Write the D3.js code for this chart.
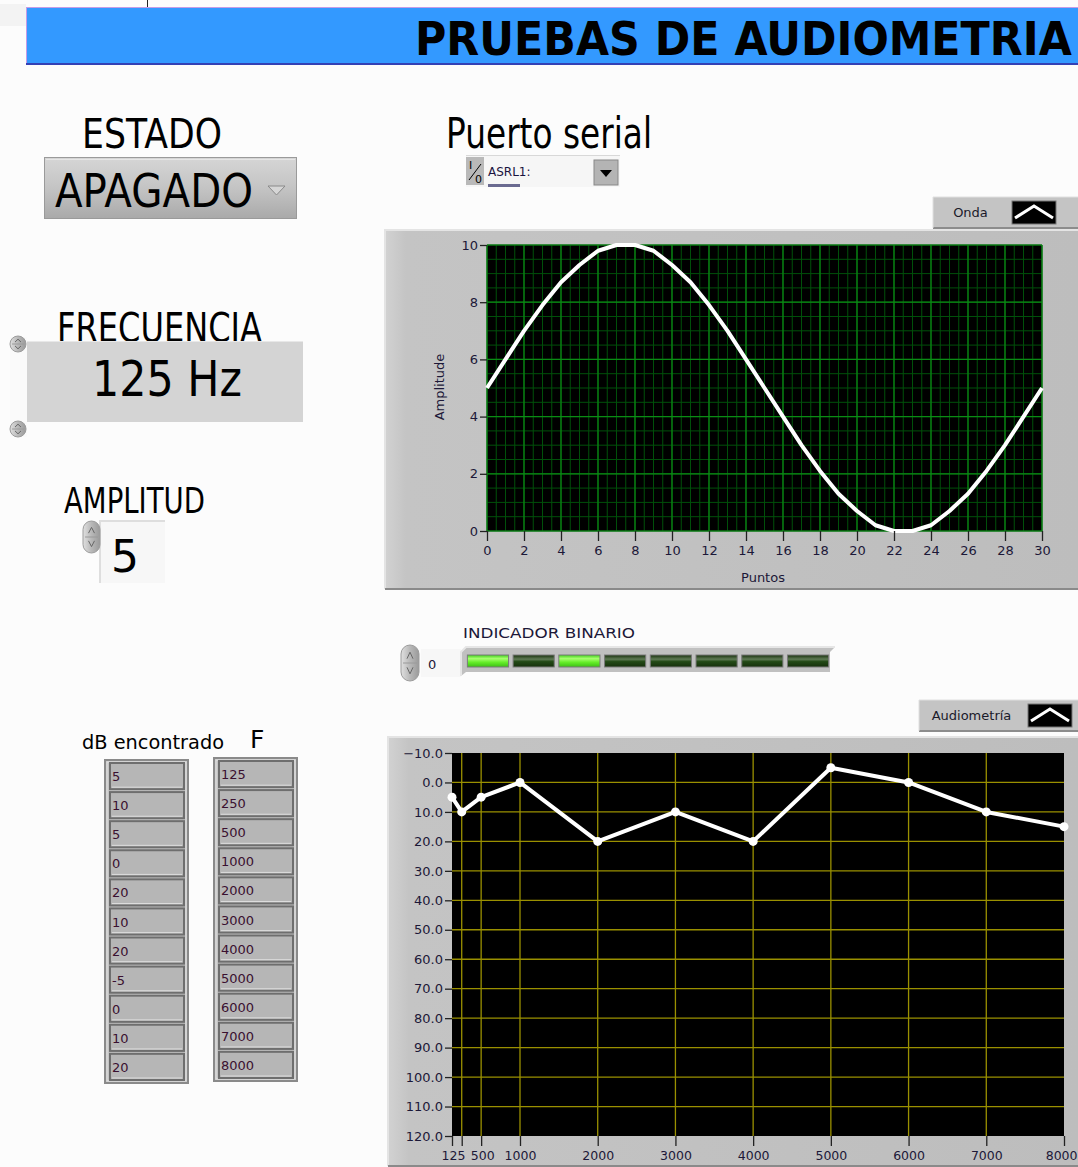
<!DOCTYPE html>
<html>
<head>
<meta charset="utf-8">
<script src="https://cdn.jsdelivr.net/npm/d3@7"></script>
<style>
  html, body { margin: 0; padding: 0; background: #fcfcfc; }
  svg text { font-family: "DejaVu Sans", "Liberation Sans", sans-serif; }
</style>
</head>
<body>
<svg id="panel" width="1078" height="1167"></svg>
<script>
// --- data ---
var ondaX = d3.range(0, 31);
var ondaY = [5.0, 6.0, 7.0, 7.9, 8.7, 9.3, 9.8, 10.0, 10.0, 9.8, 9.3, 8.7, 7.9, 7.0, 6.0, 5.0,
             4.0, 3.0, 2.1, 1.3, 0.7, 0.2, 0.0, 0.0, 0.2, 0.7, 1.3, 2.1, 3.0, 4.0, 5.0];
var audioF = [125, 250, 500, 1000, 2000, 3000, 4000, 5000, 6000, 7000, 8000];
var audioDb = [5, 10, 5, 0, 20, 10, 20, -5, 0, 10, 15];
var tablaDb = ["5", "10", "5", "0", "20", "10", "20", "-5", "0", "10", "20"];
var tablaF = ["125", "250", "500", "1000", "2000", "3000", "4000", "5000", "6000", "7000", "8000"];
var leds = [1, 0, 1, 0, 0, 0, 0, 0];
var audioYTicks = d3.range(-10, 121, 10);

var svg = d3.select("#panel");
var defs = svg.append("defs");

function grad(id, stops, vertical) {
  var g = defs.append("linearGradient").attr("id", id)
      .attr("x1", 0).attr("y1", 0).attr("x2", vertical ? 0 : 1).attr("y2", vertical ? 1 : 0);
  stops.forEach(function(s){ g.append("stop").attr("offset", s[0]).attr("stop-color", s[1]); });
}
grad("ringG", [[0, "#d6d6d6"], [0.5, "#c4c4c4"], [1, "#a9a9a9"]], true);
grad("frameG", [[0, "#d2d2d2"], [0.03, "#c4c4c4"], [1, "#bdbdbd"]], false);
grad("ledOn", [[0, "#3fd21a"], [0.3, "#a8ff70"], [0.6, "#66ee2a"], [1, "#3cc014"]], true);
grad("ledOff", [[0, "#17300c"], [0.35, "#5f7a55"], [0.55, "#234a16"], [1, "#16300c"]], true);
grad("arrowG", [[0, "#e0e0e0"], [0.5, "#b8b8b8"], [1, "#9a9a9a"]], false);

// top strip fragment + banner
svg.append("rect").attr("x", 0).attr("y", 4).attr("width", 26).attr("height", 22).attr("fill", "#f3f3f3");
svg.append("line").attr("x1", 147.5).attr("x2", 147.5).attr("y1", 0).attr("y2", 17).attr("stroke", "#222");
svg.append("rect").attr("x", 26).attr("y", 7).attr("width", 1052).attr("height", 58).attr("fill", "#3399ff");
svg.append("line").attr("x1", 26).attr("x2", 1078).attr("y1", 7.5).attr("y2", 7.5).attr("stroke", "#c59be6");
svg.append("line").attr("x1", 26.5).attr("x2", 26.5).attr("y1", 7).attr("y2", 65).attr("stroke", "#c59be6");
svg.append("rect").attr("x", 26).attr("y", 63).attr("width", 1052).attr("height", 2).attr("fill", "#3440b4");
var titulo = svg.append("text").attr("x", 0).attr("y", 0)
   .attr("font-size", 47).attr("font-weight", "bold").attr("fill", "#000")
   .text("PRUEBAS DE AUDIOMETRIA");
var tw = titulo.node().getComputedTextLength();
titulo.attr("transform", "translate(415,55) scale(" + (657 / tw) + ",1)");

function label(x, y, size, txt, len) {
  var t = svg.append("text").attr("x", x).attr("y", y).attr("font-size", size).attr("fill", "#000").text(txt);
  if (len) t.attr("textLength", len).attr("lengthAdjust", "spacingAndGlyphs");
  return t;
}

function spinner(x, y, w, h) {
  // LabVIEW increment/decrement buttons
  var g = svg.append("g");
  g.append("rect").attr("x", x).attr("y", y).attr("width", w).attr("height", h)
   .attr("rx", w / 2).attr("fill", "url(#arrowG)").attr("stroke", "#9c9c9c");
  g.append("path").attr("d", "M" + (x + w / 2 - 3) + "," + (y + h * 0.38) + "L" + (x + w / 2) + "," + (y + h * 0.2) + "L" + (x + w / 2 + 3) + "," + (y + h * 0.38))
   .attr("fill", "none").attr("stroke", "#666");
  g.append("path").attr("d", "M" + (x + w / 2 - 3) + "," + (y + h * 0.62) + "L" + (x + w / 2) + "," + (y + h * 0.8) + "L" + (x + w / 2 + 3) + "," + (y + h * 0.62))
   .attr("fill", "none").attr("stroke", "#666");
  g.append("line").attr("x1", x + 2).attr("x2", x + w - 2).attr("y1", y + h / 2).attr("y2", y + h / 2).attr("stroke", "#9a9a9a");
}

// ESTADO ring
label(82, 148, 40, "ESTADO", 140);
svg.append("rect").attr("x", 44).attr("y", 157).attr("width", 253).attr("height", 62).attr("fill", "url(#ringG)");
svg.append("rect").attr("x", 44.5).attr("y", 157.5).attr("width", 252).attr("height", 61).attr("fill", "none").attr("stroke", "#9a9a9a");
svg.append("line").attr("x1", 46).attr("x2", 295).attr("y1", 159.5).attr("y2", 159.5).attr("stroke", "#e6e6e6");
label(55, 207, 46, "APAGADO", 198);
svg.append("path").attr("d", "M268,186L285,186L276.5,195Z").attr("fill", "#d6d6d6").attr("stroke", "#8a8a8a");

// FRECUENCIA
label(57, 342, 41, "FRECUENCIA", 205);
svg.append("rect").attr("x", 27).attr("y", 341).attr("width", 276).attr("height", 81).attr("fill", "#d4d4d4");
svg.append("line").attr("x1", 27).attr("x2", 303).attr("y1", 341.5).attr("y2", 341.5).attr("stroke", "#e8e8e8");
svg.append("rect").attr("x", 10).attr("y", 337).attr("width", 17).attr("height", 100).attr("fill", "#fafafa");
spinner(10, 336, 16, 16);
spinner(10, 421, 16, 16);
label(92, 396, 50, "125 Hz", 150);

// AMPLITUD
label(64, 513, 35, "AMPLITUD", 141);
svg.append("rect").attr("x", 100).attr("y", 521).attr("width", 65).attr("height", 62).attr("fill", "#f7f7f7");
svg.append("path").attr("d", "M100,583L100,521L165,521").attr("fill", "none").attr("stroke", "#dedede").attr("stroke-width", 2);
spinner(83, 521, 17, 32);
label(111, 572, 44, "5");

// Puerto serial + VISA
label(446, 148, 42, "Puerto serial", 206);
svg.append("rect").attr("x", 466).attr("y", 155).attr("width", 154).attr("height", 32).attr("fill", "#f6f6f6");
svg.append("line").attr("x1", 466).attr("x2", 620).attr("y1", 155.5).attr("y2", 155.5).attr("stroke", "#d8d8d8");
svg.append("rect").attr("x", 466).attr("y", 157).attr("width", 18).attr("height", 28).attr("fill", "#b9b9b9");
svg.append("text").attr("x", 469).attr("y", 169).attr("font-size", 11).attr("font-family", "DejaVu Serif").text("I");
svg.append("line").attr("x1", 469).attr("x2", 481).attr("y1", 180).attr("y2", 164).attr("stroke", "#000");
svg.append("text").attr("x", 475).attr("y", 183).attr("font-size", 11).attr("font-family", "DejaVu Serif").text("0");
svg.append("text").attr("x", 488).attr("y", 176).attr("font-size", 12).attr("fill", "#1a1440").text("ASRL1:");
svg.append("rect").attr("x", 488).attr("y", 184).attr("width", 32).attr("height", 3).attr("fill", "#6a6a90");
svg.append("rect").attr("x", 594).attr("y", 160).attr("width", 24).attr("height", 25).attr("fill", "#b4b4b4").attr("stroke", "#888");
svg.append("path").attr("d", "M600,170L612,170L606,177Z").attr("fill", "#000");

// legend helper
function legend(x, y, w, txt, iconX) {
  svg.append("rect").attr("x", x).attr("y", y).attr("width", w).attr("height", 31).attr("fill", "#c4c4c4");
  svg.append("path").attr("d", "M" + x + "," + (y + 31) + "L" + (x + w) + "," + (y + 31)).attr("stroke", "#8c8c8c").attr("stroke-width", 2);
  svg.append("path").attr("d", "M" + x + "," + (y + 31) + "L" + x + "," + y + "L" + (x + w) + "," + y).attr("fill", "none").attr("stroke", "#e0e0e0");
  svg.append("text").attr("x", x + (iconX - x) / 2 - 2).attr("y", y + 20).attr("font-size", 13).attr("fill", "#1a1a2a")
     .attr("text-anchor", "middle").text(txt);
  svg.append("rect").attr("x", iconX).attr("y", y + 4).attr("width", 44).attr("height", 23).attr("fill", "#000").attr("stroke", "#777");
  svg.append("path").attr("d", "M" + (iconX + 3) + "," + (y + 21) + "L" + (iconX + 22) + "," + (y + 9) + "L" + (iconX + 41) + "," + (y + 21))
     .attr("fill", "none").attr("stroke", "#fff").attr("stroke-width", 3);
}

function frame(x, y, w, h) {
  svg.append("rect").attr("x", x).attr("y", y).attr("width", w).attr("height", h).attr("fill", "url(#frameG)");
  svg.append("path").attr("d", "M" + x + "," + (y + h - 1) + "L" + x + "," + y + "L" + (x + w) + "," + y).attr("fill", "none").attr("stroke", "#e4e4e4").attr("stroke-width", 2);
  svg.append("line").attr("x1", x).attr("x2", x + w).attr("y1", y + h - 1).attr("y2", y + h - 1).attr("stroke", "#8a8a8a").attr("stroke-width", 2);
}

function styleAxis(g, size) {
  g.select(".domain").remove();
  g.selectAll(".tick line").attr("stroke", "#222").attr("stroke-width", 1.3);
  g.selectAll(".tick text").attr("font-size", size).attr("fill", "#1c1838")
   .attr("font-family", "'DejaVu Sans', sans-serif");
}

// ---- Onda graph ----
legend(933, 197, 145, "Onda", 1012);
frame(385, 230, 693, 360);
var xS = d3.scaleLinear().domain([0, 30]).range([487, 1042]);
var yS = d3.scaleLinear().domain([0, 10]).range([531, 245]);
svg.append("rect").attr("x", xS(0)).attr("y", yS(10)).attr("width", xS(30) - xS(0)).attr("height", yS(0) - yS(10)).attr("fill", "#000");
var gO = svg.append("g");
gO.selectAll(".vmin").data(xS.ticks(60)).join("line")
  .attr("x1", d => xS(d)).attr("x2", d => xS(d)).attr("y1", yS(10)).attr("y2", yS(0))
  .attr("stroke", "#00500a").attr("stroke-width", 1);
gO.selectAll(".hmin").data(yS.ticks(20)).join("line").attr("class", "hmin")
  .attr("x1", xS(0)).attr("x2", xS(30)).attr("y1", d => yS(d)).attr("y2", d => yS(d))
  .attr("stroke", "#00500a").attr("stroke-width", 1);
gO.selectAll(".vmaj").data(xS.ticks(15)).join("line").attr("class", "vmaj")
  .attr("x1", d => xS(d)).attr("x2", d => xS(d)).attr("y1", yS(10)).attr("y2", yS(0))
  .attr("stroke", "#0a8c14").attr("stroke-width", 1.2);
gO.selectAll(".hmaj").data(yS.ticks(5)).join("line").attr("class", "hmaj")
  .attr("x1", xS(0)).attr("x2", xS(30)).attr("y1", d => yS(d)).attr("y2", d => yS(d))
  .attr("stroke", "#0a8c14").attr("stroke-width", 1.2);
var ondaLine = d3.line().x((d, i) => xS(ondaX[i])).y(d => yS(d));
svg.append("path").datum(ondaY).attr("d", ondaLine)
   .attr("fill", "none").attr("stroke", "#fff").attr("stroke-width", 4).attr("stroke-linejoin", "round");
var ax1 = svg.append("g").attr("transform", "translate(" + xS(0) + ",0)")
   .call(d3.axisLeft(yS).ticks(5).tickSize(7).tickPadding(2));
styleAxis(ax1, 13);
var ax2 = svg.append("g").attr("transform", "translate(0," + yS(0) + ")")
   .call(d3.axisBottom(xS).ticks(15).tickSize(10).tickPadding(5));
styleAxis(ax2, 13);
svg.append("text").attr("transform", "translate(444,387) rotate(-90)").attr("text-anchor", "middle")
   .attr("font-size", 13).attr("fill", "#1c1838").text("Amplitude");
svg.append("text").attr("x", 763).attr("y", 582).attr("text-anchor", "middle")
   .attr("font-size", 13).attr("fill", "#1c1838").text("Puntos");

// ---- INDICADOR BINARIO ----
svg.append("text").attr("x", 463).attr("y", 638).attr("font-size", 14).attr("fill", "#1c1838")
   .attr("textLength", 172).attr("lengthAdjust", "spacingAndGlyphs").text("INDICADOR BINARIO");
spinner(401, 645, 18, 36);
svg.append("rect").attr("x", 421).attr("y", 649).attr("width", 40).attr("height", 28).attr("fill", "#f7f7f7");
svg.append("text").attr("x", 428).attr("y", 669).attr("font-size", 13).attr("fill", "#1c1838").text("0");
svg.append("path").attr("d", "M461,676L461,652L466,647L835,647L830,652L830,672L466,672Z").attr("fill", "#c0c0c0");
svg.append("path").attr("d", "M461,676L461,652L466,647L835,647").attr("fill", "none").attr("stroke", "#e6e6e6").attr("stroke-width", 2);
var ledX = d3.scaleBand().domain(d3.range(leds.length)).range([466, 830]).paddingInner(0.1).paddingOuter(0.03);
svg.selectAll(".led").data(leds).join("rect").attr("class", "led")
   .attr("x", (d, i) => ledX(i)).attr("y", 655).attr("width", ledX.bandwidth()).attr("height", 12)
   .attr("fill", d => d ? "url(#ledOn)" : "url(#ledOff)").attr("stroke", "#7a7a7a");

// ---- Audiometria graph ----
legend(919, 700, 159, "Audiometría", 1028);
frame(388, 737, 690, 430);
var fx = d3.scaleLinear().domain([125, 8000]).range([452, 1064]);
var fy = d3.scaleLinear().domain([-10, 120]).range([753, 1136]);
svg.append("rect").attr("x", fx(125)).attr("y", fy(-10)).attr("width", fx(8000) - fx(125)).attr("height", fy(120) - fy(-10)).attr("fill", "#000");
var gA = svg.append("g");
gA.selectAll(".av").data(audioF.slice(1, -1)).join("line").attr("class", "av")
  .attr("x1", d => fx(d)).attr("x2", d => fx(d)).attr("y1", fy(-10)).attr("y2", fy(120))
  .attr("stroke", "#9a9000").attr("stroke-width", 1.3);
gA.selectAll(".ah").data(audioYTicks.slice(1, -1)).join("line").attr("class", "ah")
  .attr("x1", fx(125)).attr("x2", fx(8000)).attr("y1", d => fy(d)).attr("y2", d => fy(d))
  .attr("stroke", "#9a9000").attr("stroke-width", 1.3);
var audioLine = d3.line().x((d, i) => fx(audioF[i])).y(d => fy(d));
svg.append("path").datum(audioDb).attr("d", audioLine)
   .attr("fill", "none").attr("stroke", "#fff").attr("stroke-width", 4).attr("stroke-linejoin", "round");
svg.selectAll(".pt").data(audioDb).join("circle").attr("class", "pt")
   .attr("cx", (d, i) => fx(audioF[i])).attr("cy", d => fy(d)).attr("r", 4.5).attr("fill", "#fff");
var ax3 = svg.append("g").attr("transform", "translate(" + fx(125) + ",0)")
   .call(d3.axisLeft(fy).tickValues(audioYTicks).tickFormat(d3.format(".1f")).tickSize(7).tickPadding(2));
styleAxis(ax3, 13);
var ax4 = svg.append("g").attr("transform", "translate(0," + fy(120) + ")")
   .call(d3.axisBottom(fx).tickValues(audioF).tickFormat(d => d === 250 ? "" : d).tickSize(10).tickPadding(5));
styleAxis(ax4, 13);
ax4.selectAll(".tick text").attr("font-size", 12.5);
ax4.selectAll(".tick").filter(d => d === 125 || d === 500).select("text").attr("dx", 1);
ax4.selectAll(".tick").filter(d => d === 8000).select("text").attr("text-anchor", "end").attr("dx", 13);

// ---- arrays ----
label(82, 749, 20, "dB encontrado", 142);
label(250, 748, 25, "F");
var rowY = d3.scaleBand().domain(d3.range(tablaDb.length)).range([763, 1080]).paddingInner(0.1);
function arrayCol(x, y0, vals) {
  svg.append("rect").attr("x", x).attr("y", y0).attr("width", 83).attr("height", 323).attr("fill", "#c4c4c4").attr("stroke", "#8a8a8a").attr("stroke-width", 2);
  svg.append("rect").attr("x", x + 2).attr("y", y0 + 2).attr("width", 79).attr("height", 319).attr("fill", "none").attr("stroke", "#e2e2e2");
  var g = svg.append("g");
  g.selectAll("rect").data(vals).join("rect")
   .attr("x", x + 5).attr("y", (d, i) => rowY(i) + (y0 - 760)).attr("width", 74).attr("height", rowY.bandwidth())
   .attr("fill", "#b6b6b6").attr("stroke", "#6e6e6e").attr("stroke-width", 2);
  g.selectAll("line").data(vals).join("line")
   .attr("x1", x + 7).attr("x2", x + 77).attr("y1", (d, i) => rowY(i) + (y0 - 760) + rowY.bandwidth() - 2)
   .attr("y2", (d, i) => rowY(i) + (y0 - 760) + rowY.bandwidth() - 2).attr("stroke", "#dcdcdc");
  g.selectAll("text").data(vals).join("text")
   .attr("x", x + 7).attr("y", (d, i) => rowY(i) + (y0 - 760) + rowY.bandwidth() / 2 + 5)
   .attr("font-size", 13).attr("fill", "#3a1030").text(d => d);
}
arrayCol(105, 760, tablaDb);
arrayCol(214, 758, tablaF);
</script>
</body>
</html>
